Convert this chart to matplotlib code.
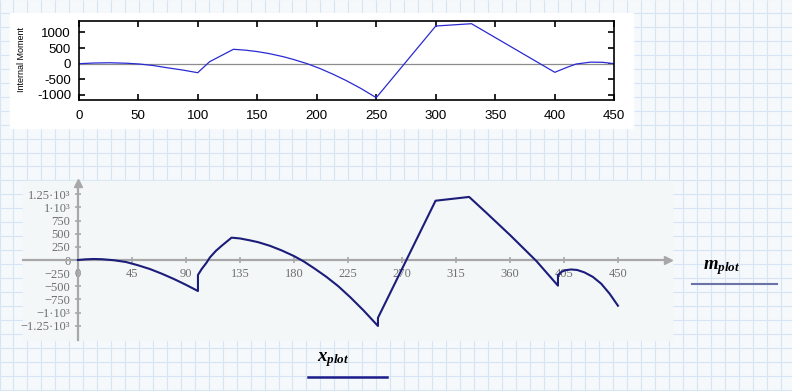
import matplotlib.pyplot as plt
from matplotlib.patches import Rectangle
import numpy as np

plt.rcParams['font.family'] = ['Liberation Sans', 'DejaVu Sans']
plt.rcParams['axes.unicode_minus'] = False
plt.rcParams['mathtext.fontset'] = 'custom'
plt.rcParams['mathtext.it'] = 'Liberation Serif:italic:bold'
plt.rcParams['mathtext.rm'] = 'Liberation Serif:bold'

# grafico de arriba (estilo matlab)
x_top = [0, 13, 26, 40, 51, 63, 74, 87, 100, 110, 120, 130, 140, 150, 160, 172,
         180, 192, 203, 214, 225, 237, 250, 300, 330, 400, 410, 418, 430, 440, 450]
m_top = [0, 22, 30, 15, -10, -60, -128, -200, -288, 64, 262, 460, 433, 387, 323, 223,
         140, 0, -159, -342, -544, -789, -1086, 1204, 1278, -275, -120, -10, 50, 45, 0]
top_xticks = [0, 50, 100, 150, 200, 250, 300, 350, 400, 450]
top_yticks = [-1000, -500, 0, 500, 1000]

# grafico de abajo (mathcad)
x_plot = [0, 6, 13, 20, 30, 40, 50, 60, 70, 80, 90, 100, 100, 103, 107, 110, 115, 120,
          128, 135, 143, 150, 160, 170, 180, 188, 197, 207, 217, 227, 238, 250, 250,
          298, 326, 340, 360, 382, 400, 400, 403, 406, 411, 416, 422, 429, 436, 443, 450]
m_plot = [0, 12, 19, 15, -5, -38, -100, -172, -262, -362, -472, -590, -285, -175, -55, 50, 175, 275,
          425, 410, 375, 340, 270, 180, 75, -25, -160, -320, -500, -710, -960, -1255, -1100,
          1128, 1200, 905, 476, -19, -488, -285, -225, -195, -180, -190, -235, -320, -450, -640, -870]
bot_xticks = [0, 45, 90, 135, 180, 225, 270, 315, 360, 405, 450]
bot_yticks = [-1250, -1000, -750, -500, -250, 0, 250, 500, 750, 1000, 1250]
bot_yticklabels = ['−1.25·10³', '−1·10³', '−750', '−500', '−250', '0',
                   '250', '500', '750', '1·10³', '1.25·10³']

W, H = 792, 391
fig = plt.figure(figsize=(W / 100, H / 100), dpi=100)


def caja(l, t, r, b):
    # de pixeles a coordenadas de figura
    return [l / W, 1 - b / H, (r - l) / W, (b - t) / H]


# fondo tipo hoja cuadriculada
bg = fig.add_axes([0, 0, 1, 1])
bg.set_xlim(0, W)
bg.set_ylim(H, 0)
bg.axis('off')
bg.add_patch(Rectangle((0, 0), W, H, color='#f5f9fb', zorder=0))
paso = 13.95
bg.vlines(np.arange(-0.5, W, paso), 0, H, color='#d5e5f6', lw=0.8, zorder=1)
bg.hlines(np.arange(-0.9, H, paso), 0, W, color='#d5e5f6', lw=0.8, zorder=1)
bg.add_patch(Rectangle((10, 12.7), 623, 115.3, color='white', zorder=2))
bg.add_patch(Rectangle((23, 181), 649, 159, color='#f3f7f7', zorder=2))
bg.plot([692, 777], [284, 284], color='#6a72a8', lw=1.5, zorder=3)
bg.plot([308, 387], [377, 377], color='#1c1c8a', lw=1.8, zorder=3)

# arriba
ax1 = fig.add_axes(caja(78.7, 20.7, 614.3, 100))
ax1.patch.set_alpha(0)
ax1.axhline(0, color='#8c8c8c', lw=0.9)
ax1.plot(x_top, m_top, color='#2a2ad2', lw=0.9)
ax1.set_xlim(0, 450)
ax1.set_ylim(-1160, 1374)
ax1.set_xticks(top_xticks)
ax1.set_yticks(top_yticks)
ax1.tick_params(direction='in', top=True, right=True, length=4, width=1.2,
                labelsize=9.6)
ax1.tick_params(axis='x', pad=7)
ax1.tick_params(axis='y', pad=5.5)
for s in ax1.spines.values():
    s.set_linewidth(1.2)
fig.text(21 / W, 1 - 60 / H, 'Internal Moment', rotation=90, ha='center',
         va='center', fontsize=6.5)

# abajo
gris = '#a8a8a8'
ax2 = fig.add_axes(caja(23, 183, 668, 340))
ax2.patch.set_alpha(0)
ax2.plot(x_plot, m_plot, color='#1c1c7a', lw=1.5, zorder=3)
ax2.set_xlim(-45.8, 491.7)
ax2.set_ylim(-1522, 1465)
for s in ['top', 'right']:
    ax2.spines[s].set_visible(False)
for s in ['left', 'bottom']:
    ax2.spines[s].set_position(('data', 0))
    ax2.spines[s].set_color(gris)
    ax2.spines[s].set_linewidth(1.6)
ax2.plot(1, 0, '>', transform=ax2.get_yaxis_transform(), clip_on=False,
         color=gris, ms=6)
ax2.plot(0, 1, '^', transform=ax2.get_xaxis_transform(), clip_on=False,
         color=gris, ms=6)
ax2.set_xticks(bot_xticks)
ax2.set_xticklabels([str(v) for v in bot_xticks], family='Liberation Serif',
                    fontsize=9, color='#707070')
ax2.set_yticks(bot_yticks)
ax2.set_yticklabels(bot_yticklabels, family='Liberation Serif',
                    fontsize=9, color='#707070')
ax2.tick_params(direction='inout', length=5, width=1.2, color=gris, pad=3)

fig.text(722 / W, 1 - 268 / H, r'$m_{plot}$', fontsize=13.5, ha='center', va='center')
fig.text(333 / W, 1 - 360 / H, r'$x_{plot}$', fontsize=13.5, ha='center', va='center')

fig.savefig('out.png', dpi=100)
